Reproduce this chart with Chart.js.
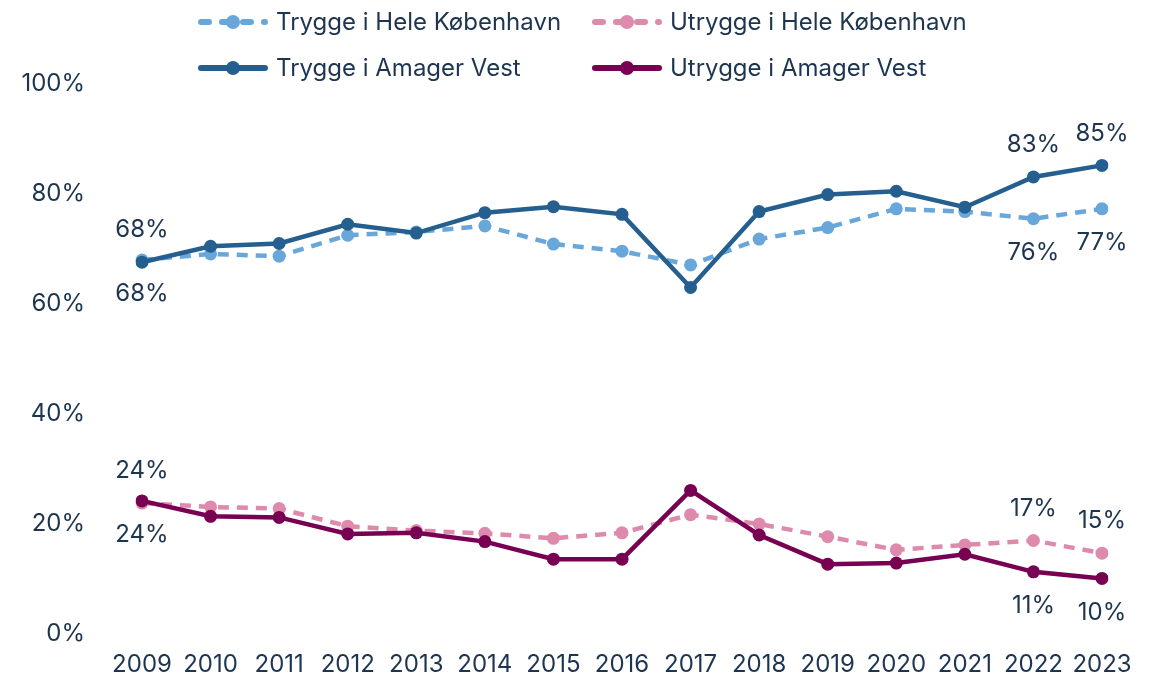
<!DOCTYPE html>
<html>
<head>
<meta charset="utf-8">
<script src="https://cdn.jsdelivr.net/npm/chart.js@4"></script>
<style>
html,body{margin:0;padding:0;background:#fff;}
#wrap{width:1153px;height:677px;position:relative;}
</style>
</head>
<body>
<div id="wrap"><canvas id="c" width="1153" height="677"></canvas></div>
<script>
const years = ['2009','2010','2011','2012','2013','2014','2015','2016','2017','2018','2019','2020','2021','2022','2023'];
const tryggeHele = [68.0,69.1,68.7,72.5,73.1,74.2,70.9,69.6,67.1,71.8,73.9,77.3,76.8,75.5,77.3];
const utryggeHele = [23.8,23.1,22.8,19.6,18.8,18.3,17.4,18.4,21.7,20.0,17.7,15.3,16.2,17.0,14.7];
const tryggeAV = [67.6,70.5,71.0,74.5,72.9,76.6,77.7,76.3,63.0,76.8,79.9,80.5,77.6,83.1,85.2];
const utryggeAV = [24.2,21.4,21.2,18.2,18.4,16.8,13.6,13.6,26.1,18.0,12.7,12.9,14.5,11.3,10.1];
const yTicks = [0,20,40,60,80,100];
const labelIdx = [0,13,14];

const FONT = 'Inter, Lato, sans-serif';
const TXT = '#1d3550';
const C_LB = '#69a7db', C_DB = '#245f8f', C_PK = '#de8aad', C_PU = '#780052';

const series = [
  {label:'Trygge i Hele København', data:tryggeHele, color:C_LB, dash:true, pos:'below'},
  {label:'Utrygge i Hele København', data:utryggeHele, color:C_PK, dash:true, pos:'above'},
  {label:'Trygge i Amager Vest', data:tryggeAV, color:C_DB, dash:false, pos:'above'},
  {label:'Utrygge i Amager Vest', data:utryggeAV, color:C_PU, dash:false, pos:'below'}
];

const legendPlugin = {
  id:'customLegend',
  afterDraw(chart){
    const ctx = chart.ctx;
    const cols=[198,592], rows=[22,68];
    series.forEach((s,i)=>{
      const x = cols[i%2], y = rows[Math.floor(i/2)];
      ctx.save();
      ctx.strokeStyle = s.color; ctx.lineWidth = 6; ctx.lineCap='round';
      ctx.setLineDash(s.dash?[8,13]:[]);
      ctx.beginPath(); ctx.moveTo(x+3,y); ctx.lineTo(x+67,y); ctx.stroke();
      ctx.setLineDash([]);
      ctx.fillStyle = s.color;
      ctx.beginPath(); ctx.arc(x+35,y,7,0,Math.PI*2); ctx.fill();
      ctx.fillStyle = TXT; ctx.font = '24px '+FONT; ctx.textBaseline='middle'; ctx.textAlign='left';
      ctx.fillText(s.label, x+78, y+1);
      ctx.restore();
    });
  }
};

const dataLabelPlugin = {
  id:'dataLabels',
  afterDatasetsDraw(chart){
    const ctx = chart.ctx;
    chart.data.datasets.forEach((ds,di)=>{
      const meta = chart.getDatasetMeta(di);
      labelIdx.forEach(i=>{
        const pt = meta.data[i];
        const v = ds.data[i];
        const txt = Math.round(v)+'%';
        const dy = ds.labelPos==='above' ? -32 : 34;
        ctx.save();
        ctx.fillStyle = TXT; ctx.font = '24px '+FONT;
        ctx.textAlign='center'; ctx.textBaseline='middle';
        ctx.fillText(txt, pt.x, pt.y+dy);
        ctx.restore();
      });
    });
  }
};

const datasets = series.map(s=>({
  label:s.label, data:s.data, borderColor:s.color, backgroundColor:s.color,
  pointBackgroundColor:s.color, pointBorderColor:s.color,
  borderWidth:4.5, pointRadius:6.5, pointHoverRadius:6.5, pointBorderWidth:0,
  borderDash: s.dash?[11,8]:[], tension:0, fill:false,
  order: s.dash?2:1, labelPos:s.pos
}));

new Chart(document.getElementById('c'), {
  type:'line',
  data:{labels:years, datasets},
  options:{
    responsive:false, animation:false,
    layout:{padding:{top:84,left:0,right:51,bottom:0}},
    plugins:{legend:{display:false}, tooltip:{enabled:false}},
    scales:{
      x:{
        offset:false,
        grid:{display:false, drawTicks:false}, border:{display:false},
        ticks:{color:TXT, font:{family:FONT,size:24}, padding:16, maxRotation:0, autoSkip:false},
        afterFit(s){ s.height = 43; s.paddingLeft = 0; s.paddingRight = 0; }
      },
      y:{
        min:0, max:100,
        afterBuildTicks(s){ s.ticks = yTicks.map(v=>({value:v})); },
        grid:{display:false, drawTicks:false}, border:{display:false},
        ticks:{color:TXT, font:{family:FONT,size:24}, padding:57, callback:v=>v+'%'},
        afterFit(s){ s.width = 142; s.paddingTop = 0; s.paddingBottom = 0; }
      }
    }
  },
  plugins:[legendPlugin, dataLabelPlugin]
});
</script>
</body>
</html>
